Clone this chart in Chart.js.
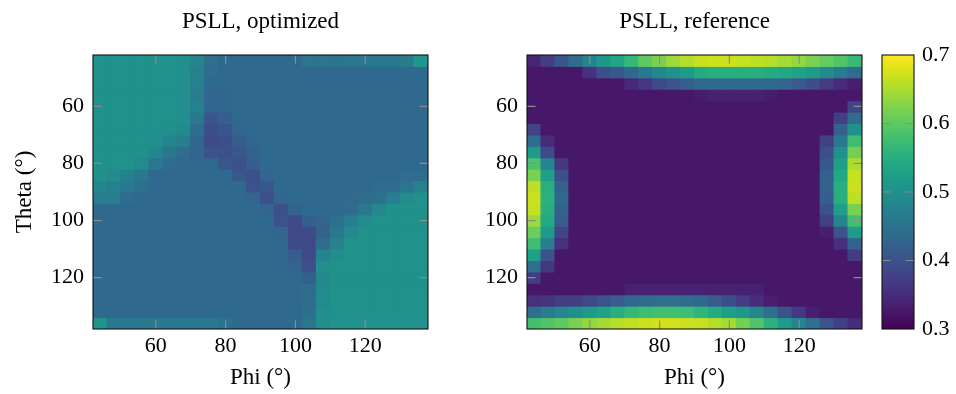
<!DOCTYPE html>
<html>
<head>
<meta charset="utf-8">
<script src="https://cdn.jsdelivr.net/npm/chart.js@4.4.1/dist/chart.umd.min.js"></script>
<style>
  html, body { margin: 0; padding: 0; background: #fff; }
  #wrap { position: relative; width: 956px; height: 394px; overflow: hidden; }
  canvas { position: absolute; top: 0; }
</style>
</head>
<body>
<div id="wrap">
  <canvas id="cOpt" width="470" height="394" style="left:0;width:470px;height:394px"></canvas>
  <canvas id="cRef" width="400" height="394" style="left:470px;width:400px;height:394px"></canvas>
  <canvas id="cBar" width="86" height="394" style="left:870px;width:86px;height:394px"></canvas>
</div>
<script>
// Grid cell centres (degrees)
const phiDeg   = [44, 48, 52, 56, 60, 64, 68, 72, 76, 80, 84, 88, 92, 96, 100, 104, 108, 112, 116, 120, 124, 128, 132, 136];
const thetaDeg = [44, 48, 52, 56, 60, 64, 68, 72, 76, 80, 84, 88, 92, 96, 100, 104, 108, 112, 116, 120, 124, 128, 132, 136];

// Axis ticks
const phiTicks   = [60, 80, 100, 120];
const thetaTicks = [60, 80, 100, 120];
const psllTicks  = [0.3, 0.4, 0.5, 0.6, 0.7];
const psllRange  = [0.3, 0.7];

// PSLL after optimization, one row per theta, one column per phi
const psllOptimized = [
  [0.500,0.500,0.500,0.500,0.500,0.500,0.498,0.480,0.445,0.435,0.435,0.435,0.435,0.435,0.435,0.455,0.455,0.455,0.458,0.458,0.462,0.462,0.465,0.510],
  [0.500,0.500,0.500,0.500,0.500,0.500,0.498,0.475,0.440,0.435,0.435,0.435,0.435,0.435,0.435,0.435,0.435,0.435,0.435,0.435,0.435,0.435,0.435,0.435],
  [0.500,0.500,0.500,0.500,0.500,0.500,0.497,0.475,0.435,0.435,0.435,0.435,0.435,0.435,0.435,0.435,0.435,0.435,0.435,0.435,0.435,0.435,0.435,0.435],
  [0.500,0.500,0.500,0.500,0.500,0.500,0.495,0.465,0.430,0.433,0.435,0.435,0.435,0.435,0.435,0.435,0.435,0.435,0.435,0.435,0.435,0.435,0.435,0.435],
  [0.500,0.500,0.500,0.500,0.500,0.500,0.495,0.475,0.430,0.433,0.435,0.435,0.435,0.435,0.435,0.435,0.435,0.435,0.435,0.435,0.435,0.435,0.435,0.435],
  [0.500,0.500,0.500,0.500,0.500,0.500,0.495,0.460,0.405,0.420,0.435,0.435,0.435,0.435,0.435,0.435,0.435,0.435,0.435,0.435,0.435,0.435,0.435,0.435],
  [0.500,0.500,0.500,0.500,0.500,0.495,0.490,0.440,0.395,0.405,0.430,0.435,0.435,0.435,0.435,0.435,0.435,0.435,0.435,0.435,0.435,0.435,0.435,0.435],
  [0.500,0.500,0.500,0.500,0.495,0.480,0.470,0.432,0.392,0.395,0.415,0.432,0.435,0.435,0.435,0.435,0.435,0.435,0.435,0.435,0.435,0.435,0.435,0.435],
  [0.500,0.500,0.500,0.500,0.485,0.460,0.440,0.430,0.400,0.398,0.410,0.425,0.435,0.435,0.435,0.435,0.435,0.435,0.435,0.435,0.435,0.435,0.435,0.435],
  [0.500,0.500,0.500,0.490,0.460,0.440,0.435,0.435,0.435,0.410,0.397,0.420,0.435,0.435,0.435,0.435,0.435,0.435,0.435,0.435,0.435,0.435,0.435,0.435],
  [0.500,0.490,0.475,0.460,0.435,0.435,0.435,0.435,0.435,0.435,0.410,0.397,0.430,0.435,0.435,0.435,0.435,0.435,0.435,0.435,0.435,0.435,0.440,0.440],
  [0.485,0.475,0.460,0.445,0.435,0.435,0.435,0.435,0.435,0.435,0.435,0.400,0.410,0.435,0.435,0.435,0.435,0.435,0.435,0.435,0.440,0.440,0.455,0.475],
  [0.470,0.470,0.440,0.435,0.435,0.435,0.435,0.435,0.435,0.435,0.435,0.430,0.397,0.430,0.435,0.435,0.435,0.435,0.438,0.440,0.445,0.470,0.492,0.500],
  [0.435,0.435,0.435,0.435,0.435,0.435,0.435,0.435,0.435,0.435,0.435,0.435,0.430,0.397,0.428,0.435,0.435,0.435,0.440,0.460,0.485,0.500,0.500,0.500],
  [0.435,0.435,0.435,0.435,0.435,0.435,0.435,0.435,0.435,0.435,0.435,0.435,0.435,0.400,0.392,0.420,0.428,0.445,0.470,0.490,0.500,0.500,0.500,0.500],
  [0.435,0.435,0.435,0.435,0.435,0.435,0.435,0.435,0.435,0.435,0.435,0.435,0.435,0.430,0.387,0.392,0.425,0.460,0.488,0.500,0.500,0.500,0.500,0.500],
  [0.435,0.435,0.435,0.435,0.435,0.435,0.435,0.435,0.435,0.435,0.435,0.435,0.435,0.435,0.392,0.387,0.440,0.478,0.500,0.500,0.500,0.500,0.500,0.500],
  [0.435,0.435,0.435,0.435,0.435,0.435,0.435,0.435,0.435,0.435,0.435,0.435,0.435,0.435,0.415,0.388,0.480,0.492,0.500,0.500,0.500,0.500,0.500,0.500],
  [0.435,0.435,0.435,0.435,0.435,0.435,0.435,0.435,0.435,0.435,0.435,0.435,0.435,0.435,0.428,0.398,0.495,0.500,0.500,0.500,0.500,0.500,0.500,0.500],
  [0.435,0.435,0.435,0.435,0.435,0.435,0.435,0.435,0.435,0.435,0.435,0.435,0.435,0.435,0.435,0.420,0.488,0.500,0.500,0.500,0.500,0.500,0.500,0.500],
  [0.435,0.435,0.435,0.435,0.435,0.435,0.435,0.435,0.435,0.435,0.435,0.435,0.435,0.435,0.435,0.440,0.490,0.500,0.500,0.500,0.500,0.500,0.500,0.500],
  [0.435,0.435,0.435,0.435,0.435,0.435,0.435,0.435,0.435,0.435,0.435,0.435,0.435,0.435,0.435,0.440,0.490,0.500,0.500,0.500,0.500,0.500,0.500,0.500],
  [0.435,0.435,0.435,0.435,0.435,0.435,0.435,0.435,0.435,0.435,0.435,0.435,0.435,0.435,0.435,0.445,0.495,0.500,0.500,0.500,0.500,0.500,0.500,0.500],
  [0.505,0.460,0.460,0.460,0.460,0.460,0.460,0.460,0.460,0.450,0.435,0.435,0.435,0.435,0.435,0.455,0.495,0.502,0.502,0.502,0.502,0.502,0.502,0.502]
];

// PSLL of the reference pattern, same layout
const psllReference = [
  [0.340,0.370,0.405,0.440,0.480,0.510,0.535,0.565,0.600,0.620,0.640,0.655,0.665,0.670,0.670,0.665,0.660,0.655,0.645,0.635,0.620,0.605,0.590,0.570],
  [0.325,0.325,0.325,0.325,0.355,0.395,0.410,0.435,0.460,0.485,0.500,0.520,0.545,0.550,0.550,0.550,0.550,0.545,0.540,0.530,0.520,0.490,0.465,0.440],
  [0.325,0.325,0.325,0.325,0.325,0.325,0.325,0.345,0.365,0.385,0.400,0.420,0.435,0.435,0.435,0.435,0.435,0.435,0.430,0.415,0.395,0.370,0.350,0.333],
  [0.325,0.325,0.325,0.325,0.325,0.325,0.325,0.325,0.325,0.325,0.325,0.325,0.330,0.337,0.337,0.337,0.337,0.330,0.325,0.325,0.325,0.325,0.325,0.325],
  [0.325,0.325,0.325,0.325,0.325,0.325,0.325,0.325,0.325,0.325,0.325,0.325,0.325,0.325,0.325,0.325,0.325,0.325,0.325,0.325,0.325,0.325,0.325,0.380],
  [0.325,0.325,0.325,0.325,0.325,0.325,0.325,0.325,0.325,0.325,0.325,0.325,0.325,0.325,0.325,0.325,0.325,0.325,0.325,0.325,0.325,0.325,0.375,0.440],
  [0.380,0.325,0.325,0.325,0.325,0.325,0.325,0.325,0.325,0.325,0.325,0.325,0.325,0.325,0.325,0.325,0.325,0.325,0.325,0.325,0.325,0.325,0.425,0.500],
  [0.440,0.350,0.325,0.325,0.325,0.325,0.325,0.325,0.325,0.325,0.325,0.325,0.325,0.325,0.325,0.325,0.325,0.325,0.325,0.325,0.325,0.375,0.460,0.575],
  [0.515,0.390,0.325,0.325,0.325,0.325,0.325,0.325,0.325,0.325,0.325,0.325,0.325,0.325,0.325,0.325,0.325,0.325,0.325,0.325,0.325,0.395,0.500,0.615],
  [0.585,0.480,0.365,0.325,0.325,0.325,0.325,0.325,0.325,0.325,0.325,0.325,0.325,0.325,0.325,0.325,0.325,0.325,0.325,0.325,0.325,0.410,0.525,0.650],
  [0.620,0.525,0.395,0.325,0.325,0.325,0.325,0.325,0.325,0.325,0.325,0.325,0.325,0.325,0.325,0.325,0.325,0.325,0.325,0.325,0.325,0.420,0.540,0.665],
  [0.660,0.550,0.425,0.325,0.325,0.325,0.325,0.325,0.325,0.325,0.325,0.325,0.325,0.325,0.325,0.325,0.325,0.325,0.325,0.325,0.325,0.425,0.550,0.668],
  [0.668,0.555,0.435,0.325,0.325,0.325,0.325,0.325,0.325,0.325,0.325,0.325,0.325,0.325,0.325,0.325,0.325,0.325,0.325,0.325,0.325,0.420,0.550,0.660],
  [0.665,0.550,0.425,0.325,0.325,0.325,0.325,0.325,0.325,0.325,0.325,0.325,0.325,0.325,0.325,0.325,0.325,0.325,0.325,0.325,0.325,0.400,0.525,0.620],
  [0.640,0.540,0.415,0.325,0.325,0.325,0.325,0.325,0.325,0.325,0.325,0.325,0.325,0.325,0.325,0.325,0.325,0.325,0.325,0.325,0.325,0.375,0.480,0.580],
  [0.610,0.520,0.380,0.325,0.325,0.325,0.325,0.325,0.325,0.325,0.325,0.325,0.325,0.325,0.325,0.325,0.325,0.325,0.325,0.325,0.325,0.333,0.400,0.520],
  [0.575,0.470,0.355,0.325,0.325,0.325,0.325,0.325,0.325,0.325,0.325,0.325,0.325,0.325,0.325,0.325,0.325,0.325,0.325,0.325,0.325,0.325,0.355,0.425],
  [0.525,0.400,0.325,0.325,0.325,0.325,0.325,0.325,0.325,0.325,0.325,0.325,0.325,0.325,0.325,0.325,0.325,0.325,0.325,0.325,0.325,0.325,0.325,0.370],
  [0.445,0.365,0.325,0.325,0.325,0.325,0.325,0.325,0.325,0.325,0.325,0.325,0.325,0.325,0.325,0.325,0.325,0.325,0.325,0.325,0.325,0.325,0.325,0.325],
  [0.370,0.325,0.325,0.325,0.325,0.325,0.325,0.325,0.325,0.325,0.325,0.325,0.325,0.325,0.325,0.325,0.325,0.325,0.325,0.325,0.325,0.325,0.325,0.325],
  [0.325,0.325,0.325,0.325,0.325,0.325,0.325,0.337,0.337,0.337,0.337,0.337,0.337,0.337,0.337,0.337,0.337,0.325,0.325,0.325,0.325,0.325,0.325,0.325],
  [0.355,0.360,0.370,0.375,0.385,0.400,0.415,0.435,0.440,0.445,0.445,0.440,0.435,0.415,0.395,0.370,0.350,0.333,0.325,0.325,0.325,0.325,0.325,0.325],
  [0.445,0.465,0.480,0.495,0.515,0.530,0.550,0.565,0.575,0.578,0.578,0.575,0.560,0.545,0.525,0.510,0.480,0.445,0.400,0.365,0.333,0.325,0.325,0.325],
  [0.580,0.590,0.600,0.620,0.635,0.645,0.655,0.662,0.668,0.672,0.672,0.668,0.665,0.655,0.645,0.615,0.590,0.555,0.520,0.485,0.445,0.405,0.375,0.350]
];

// Viridis colour map, 21 evenly spaced stops
const viridisStops = ["#440154","#471365","#482475","#463480","#414487","#3b528b","#355f8d","#2f6c8e","#2a788e","#25848e",
                      "#21918c","#1e9c89","#22a884","#2fb47c","#44bf70","#5ec962","#7ad151","#9bd93c","#bddf26","#dfe318","#fde725"];

function hexRgb(h) {
  return [parseInt(h.slice(1, 3), 16), parseInt(h.slice(3, 5), 16), parseInt(h.slice(5, 7), 16)];
}
const viridisRgb = viridisStops.map(hexRgb);

function viridis(t) {
  t = Math.max(0, Math.min(1, t));
  const n = viridisRgb.length - 1;
  const f = t * n;
  const i = Math.min(Math.floor(f), n - 1);
  const u = f - i;
  const a = viridisRgb[i], b = viridisRgb[i + 1];
  const c = a.map((v, k) => Math.round(v + (b[k] - v) * u));
  return `rgb(${c[0]},${c[1]},${c[2]})`;
}

function psllColor(v) {
  return viridis((v - psllRange[0]) / (psllRange[1] - psllRange[0]));
}

const SERIF = "'Liberation Serif', 'Times New Roman', serif";
Chart.defaults.font.family = SERIF;
Chart.defaults.color = '#000';

const TICK_COLOR = '#8c8c8c';
const TICK_LEN = 8.5;

// Draws inward tick marks on every side of the plot and the black frame around it
function framePlugin(withX, skipEnds) {
  return {
    id: 'frame',
    afterDatasetsDraw(chart) {
      const { ctx, chartArea: a } = chart;
      ctx.save();
      ctx.strokeStyle = TICK_COLOR;
      ctx.lineWidth = 1.2;
      ctx.beginPath();
      if (withX) {
        const xs = chart.scales.x;
        for (const t of xs.ticks) {
          const px = xs.getPixelForValue(t.value);
          ctx.moveTo(px, a.top);    ctx.lineTo(px, a.top + TICK_LEN);
          ctx.moveTo(px, a.bottom); ctx.lineTo(px, a.bottom - TICK_LEN);
        }
      }
      const ys = chart.scales.y;
      for (const t of ys.ticks) {
        if (skipEnds && (t.value <= ys.min || t.value >= ys.max)) continue;
        const py = ys.getPixelForValue(t.value);
        ctx.moveTo(a.left, py);  ctx.lineTo(a.left + TICK_LEN, py);
        ctx.moveTo(a.right, py); ctx.lineTo(a.right - TICK_LEN, py);
      }
      ctx.stroke();
      ctx.strokeStyle = '#111';
      ctx.lineWidth = 1.1;
      ctx.strokeRect(a.left, a.top, a.right - a.left, a.bottom - a.top);
      ctx.restore();
    }
  };
}

function heatmap(canvasId, grid, titleText, yTitle, yAxisWidth, padRight) {
  const halfPhi = (phiDeg[1] - phiDeg[0]) / 2;
  const halfTheta = (thetaDeg[1] - thetaDeg[0]) / 2;
  const datasets = thetaDeg.map((th, r) => ({
    data: phiDeg.map(ph => ({ x: ph, y: [th - halfTheta, th + halfTheta] })),
    backgroundColor: ctx => psllColor(grid[r][ctx.dataIndex]),
    borderWidth: 0,
    borderSkipped: false,
    grouped: false,
    barPercentage: 1,
    categoryPercentage: 1,
    inflateAmount: 0.5,
    clip: 0
  }));

  return new Chart(document.getElementById(canvasId), {
    type: 'bar',
    data: { datasets },
    options: {
      responsive: false,
      animation: false,
      devicePixelRatio: 1,
      events: [],
      layout: { padding: { left: 0, right: padRight, top: 0, bottom: 0 } },
      plugins: {
        legend: { display: false },
        tooltip: { enabled: false },
        title: {
          display: true,
          text: titleText,
          fullSize: false,
          color: '#000',
          font: { size: 23, weight: 'normal' },
          padding: { top: 8.4, bottom: 19 }
        }
      },
      scales: {
        x: {
          type: 'linear',
          min: phiDeg[0] - halfPhi,
          max: phiDeg[phiDeg.length - 1] + halfPhi,
          offset: false,
          grid: { display: false, drawTicks: false },
          border: { display: false },
          afterBuildTicks: s => { s.ticks = phiTicks.map(v => ({ value: v })); },
          ticks: { font: { size: 22 }, color: '#000', padding: 3.7, maxRotation: 0, autoSkip: false },
          title: { display: true, text: 'Phi (°)', color: '#000', font: { size: 23 }, padding: { top: 0, bottom: 2.5 } },
          afterFit: s => { s.height = 65; }
        },
        y: {
          type: 'linear',
          reverse: true,
          min: thetaDeg[0] - halfTheta,
          max: thetaDeg[thetaDeg.length - 1] + halfTheta,
          grid: { display: false, drawTicks: false },
          border: { display: false },
          afterBuildTicks: s => { s.ticks = thetaTicks.map(v => ({ value: v })); },
          ticks: { font: { size: 22 }, color: '#000', padding: 9, autoSkip: false },
          title: { display: !!yTitle, text: yTitle || '', color: '#000', font: { size: 23 }, padding: { top: 10.7, bottom: 0 } },
          afterFit: s => { s.width = yAxisWidth; }
        }
      }
    },
    plugins: [framePlugin(true, false)]
  });
}

heatmap('cOpt', psllOptimized, 'PSLL, optimized', 'Theta (°)', 93, 42);
heatmap('cRef', psllReference, 'PSLL, reference', null, 57, 8);

// Colour bar
new Chart(document.getElementById('cBar'), {
  type: 'bar',
  data: {
    labels: [''],
    datasets: [{
      data: [psllRange],
      backgroundColor: ctx => {
        const chart = ctx.chart;
        if (!chart.chartArea) return viridisStops[0];
        const ys = chart.scales.y;
        const g = chart.ctx.createLinearGradient(0, ys.getPixelForValue(psllRange[0]), 0, ys.getPixelForValue(psllRange[1]));
        viridisStops.forEach((h, i) => g.addColorStop(i / (viridisStops.length - 1), h));
        return g;
      },
      borderWidth: 0,
      borderSkipped: false,
      barPercentage: 1,
      categoryPercentage: 1,
      clip: 0
    }]
  },
  options: {
    responsive: false,
    animation: false,
    devicePixelRatio: 1,
    events: [],
    layout: { padding: { left: 12, right: 0, top: 55, bottom: 65 } },
    plugins: { legend: { display: false }, tooltip: { enabled: false }, title: { display: false } },
    scales: {
      x: { display: false },
      y: {
        position: 'right',
        min: psllRange[0],
        max: psllRange[1],
        grid: { display: false, drawTicks: false },
        border: { display: false },
        afterBuildTicks: s => { s.ticks = psllTicks.map(v => ({ value: v })); },
        ticks: { font: { size: 22 }, color: '#000', padding: 8, autoSkip: false, callback: v => Number(v).toFixed(1) },
        afterFit: s => { s.width = 42; }
      }
    }
  },
  plugins: [framePlugin(false, true)]
});
</script>
</body>
</html>
